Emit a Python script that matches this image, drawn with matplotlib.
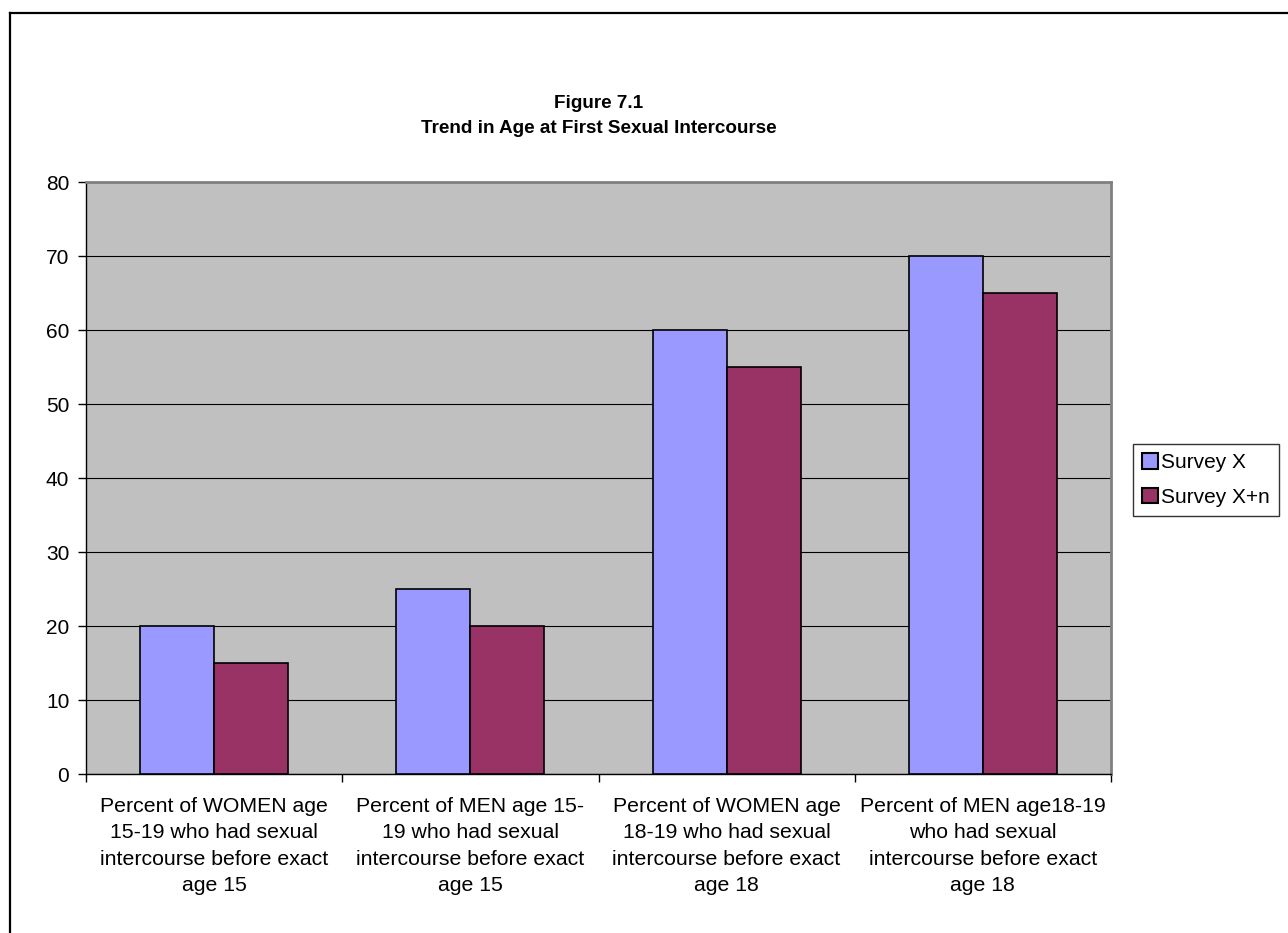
import matplotlib
matplotlib.use("Agg")
import matplotlib.pyplot as plt
from matplotlib.patches import Patch
from matplotlib.lines import Line2D
import numpy as np

plt.rcParams['font.family'] = ['Liberation Sans', 'DejaVu Sans']

categories = [
    "Percent of WOMEN age\n15-19 who had sexual\nintercourse before exact\nage 15",
    "Percent of MEN age 15-\n19 who had sexual\nintercourse before exact\nage 15",
    "Percent of WOMEN age\n18-19 who had sexual\nintercourse before exact\nage 18",
    "Percent of MEN age18-19\nwho had sexual\nintercourse before exact\nage 18",
]
series_names = ["Survey X", "Survey X+n"]
survey_x = [20, 25, 60, 70]
survey_xn = [15, 20, 55, 65]
y_ticks = [0, 10, 20, 30, 40, 50, 60, 70, 80]

W, H = 1288, 933
fig = plt.figure(figsize=(W / 100, H / 100), dpi=100)
fig.patch.set_facecolor('white')

ax = fig.add_axes([86 / W, 1 - 774 / H, (1111 - 86) / W, (774 - 182) / H])
ax.set_facecolor('#C0C0C0')

x = np.arange(len(categories))
bw = 0.289
ax.bar(x - bw / 2, survey_x, bw, color='#9999FF', edgecolor='black', linewidth=1.2, zorder=3)
ax.bar(x + bw / 2, survey_xn, bw, color='#993366', edgecolor='black', linewidth=1.2, zorder=3)

ax.set_xlim(-0.5, len(categories) - 0.5)
ax.set_ylim(0, 80)
ax.set_yticks(y_ticks)
ax.set_yticklabels([str(v) for v in y_ticks], fontsize=15)
ax.yaxis.grid(True, color='black', linewidth=0.8, zorder=0)
ax.set_axisbelow(True)

ax.set_xticks(x)
ax.set_xticklabels(categories, fontsize=15.3, linespacing=1.5, va='top')
ax.tick_params(axis='x', which='major', length=0, pad=16.5)
ax.set_xticks(np.arange(-0.5, len(categories)), minor=True)
ax.tick_params(axis='x', which='minor', length=6, width=1, color='black', direction='out')
ax.tick_params(axis='y', length=6, width=1, direction='out', pad=6)

for s in ['top', 'right']:
    ax.spines[s].set_color('#808080')
    ax.spines[s].set_linewidth(2)
for s in ['left', 'bottom']:
    ax.spines[s].set_color('black')
    ax.spines[s].set_linewidth(1)

fig.text(599 / W, 1 - 116 / H, "Figure 7.1\nTrend in Age at First Sexual Intercourse",
         ha='center', va='center', fontsize=13.6, fontweight='bold', linespacing=1.6)

handles = [Patch(facecolor='#9999FF', edgecolor='black', linewidth=1.5),
           Patch(facecolor='#993366', edgecolor='black', linewidth=1.5)]
leg = fig.legend(handles, series_names, loc='upper left',
                 bbox_to_anchor=(1133 / W, 1 - 444 / H), fontsize=15,
                 frameon=True, fancybox=False, shadow=False,
                 handlelength=0.75, handleheight=0.75, handletextpad=0.15,
                 borderpad=0.45, labelspacing=0.75, borderaxespad=0)
leg.get_frame().set_edgecolor('black')
leg.get_frame().set_linewidth(1)

# outer frame: top and left edges
fig.add_artist(Line2D([10 / W, 1], [1 - 13 / H, 1 - 13 / H], color='black', linewidth=1.6,
                      transform=fig.transFigure))
fig.add_artist(Line2D([10 / W, 10 / W], [0, 1 - 13 / H], color='black', linewidth=1.6,
                      transform=fig.transFigure))

fig.savefig("out.png", dpi=100)
